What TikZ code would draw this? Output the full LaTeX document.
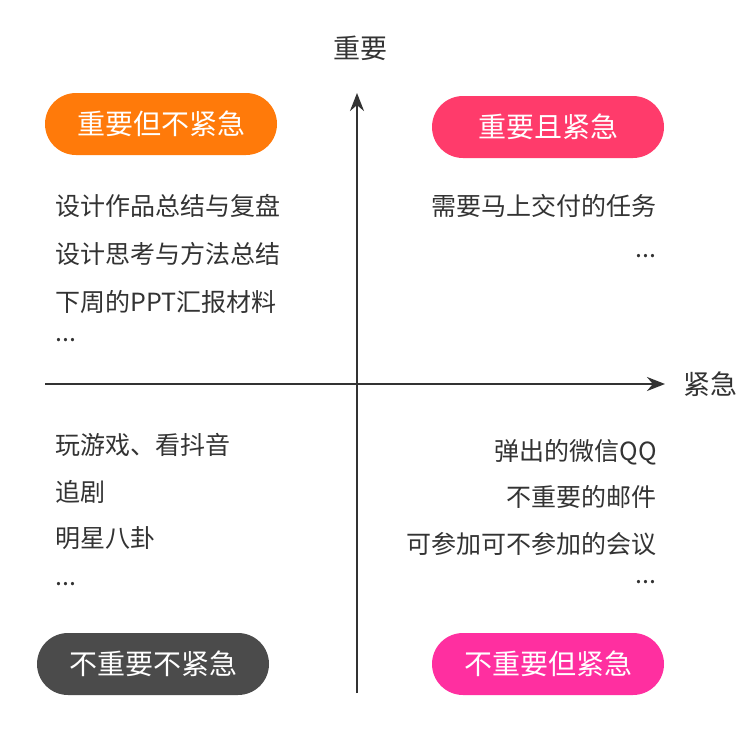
\documentclass[tikz,border=0pt]{standalone}
\usepackage{fontspec}
\setmainfont{Noto Sans CJK SC}
\usetikzlibrary{arrows.meta}
\definecolor{cOr}{HTML}{FF7A0A}
\definecolor{cRd}{HTML}{FF3B6B}
\definecolor{cGy}{HTML}{4B4B4B}
\definecolor{cMg}{HTML}{FF2FA0}
\definecolor{cTx}{HTML}{333333}
\tikzset{
 pill/.style={rounded corners=31pt,minimum width=232pt,minimum height=62pt,text=white,font=\fontsize{28}{30}\selectfont,inner sep=0pt},
 item/.style={text=cTx,font=\fontsize{25}{28}\selectfont,inner sep=0pt},
 ax/.style={line width=2.2pt,draw=cTx,-{Stealth[length=18pt,width=14pt]}}
}
\begin{document}
\begin{tikzpicture}[x=1pt,y=-1pt]
\useasboundingbox[fill=white] (0,0) rectangle (750,750);
\coordinate (vb) at (357,693);
\coordinate (vt) at (357,93);
\coordinate (hl) at (45,384);
\coordinate (hr) at (665,384);
\draw[ax] (vb) -- (vt);
\draw[ax] (hl) -- (hr);
\node[item,font=\fontsize{27}{30}\selectfont] (ly) at (360,48) {重要};
\node[item,font=\fontsize{27}{30}\selectfont] (lx) at (710,384) {紧急};
\node[pill,fill=cOr] (p1) at (161,124) {重要但不紧急};
\node[pill,fill=cRd] (p2) at (548,127) {重要且紧急};
\node[pill,fill=cGy] (p3) at (153,664) {不重要不紧急};
\node[pill,fill=cMg] (p4) at (548,664) {不重要但紧急};
\node[item,anchor=west] (a1) at (55,206) {设计作品总结与复盘};
\node[item,anchor=west] (a2) at (55,254) {设计思考与方法总结};
\node[item,anchor=west] (a3) at (55,302) {下周的PPT汇报材料};
\node[item,anchor=west] (a4) at (55,340) {...};
\node[item,anchor=east] (b1) at (657,206) {需要马上交付的任务};
\node[item,anchor=east] (b2) at (657,256) {...};
\node[item,anchor=west] (c1) at (55,445) {玩游戏、看抖音};
\node[item,anchor=west] (c2) at (55,492) {追剧};
\node[item,anchor=west] (c3) at (55,538) {明星八卦};
\node[item,anchor=west] (c4) at (55,584) {...};
\node[item,anchor=east] (d1) at (657,452) {弹出的微信QQ};
\node[item,anchor=east] (d2) at (657,497) {不重要的邮件};
\node[item,anchor=east] (d3) at (657,544) {可参加可不参加的会议};
\node[item,anchor=east] (d4) at (657,582) {...};
\end{tikzpicture}
\end{document}
